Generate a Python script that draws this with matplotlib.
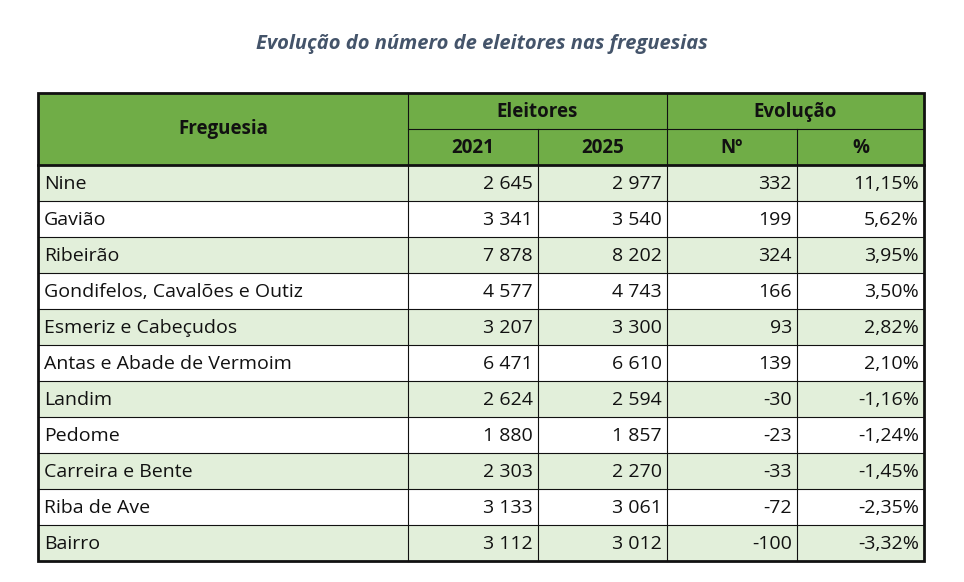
import matplotlib
matplotlib.use("Agg")
import matplotlib.pyplot as plt
from matplotlib.patches import Rectangle

freguesias = ["Nine", "Gavião", "Ribeirão", "Gondifelos, Cavalões e Outiz", "Esmeriz e Cabeçudos",
              "Antas e Abade de Vermoim", "Landim", "Pedome", "Carreira e Bente", "Riba de Ave", "Bairro"]
e2021 = ["2 645", "3 341", "7 878", "4 577", "3 207", "6 471", "2 624", "1 880", "2 303", "3 133", "3 112"]
e2025 = ["2 977", "3 540", "8 202", "4 743", "3 300", "6 610", "2 594", "1 857", "2 270", "3 061", "3 012"]
evol_n = ["332", "199", "324", "166", "93", "139", "-30", "-23", "-33", "-72", "-100"]
evol_p = ["11,15%", "5,62%", "3,95%", "3,50%", "2,82%", "2,10%", "-1,16%", "-1,24%", "-1,45%", "-2,35%", "-3,32%"]

FONT = "Open Sans"
fig = plt.figure(figsize=(9.64, 5.82), dpi=100)
ax = fig.add_axes([0, 0, 1, 1])
ax.set_xlim(0, 964); ax.set_ylim(582, 0); ax.axis("off")

xs = [38, 408, 538, 667, 797, 924]
top, mid, hb, rh = 93, 129, 165, 36
green, light = "#70AD47", "#E2EFDA"

ax.text(482, 44, "Evolução do número de eleitores nas freguesias", ha="center", va="center",
        fontsize=14.5, fontweight="bold", fontstyle="italic", color="#44546A", family=FONT)

ax.add_patch(Rectangle((xs[0], top), xs[-1]-xs[0], hb-top, fc=green, ec="none"))
n = len(freguesias)
for i in range(n):
    y = hb + i*rh
    ax.add_patch(Rectangle((xs[0], y), xs[-1]-xs[0], rh, fc=light if i % 2 == 0 else "white", ec="none"))

kw = dict(fontsize=13.5, fontweight="bold", color="#111111", family=FONT, va="center", ha="center")
ax.text((xs[0]+xs[1])/2, (top+hb)/2, "Freguesia", **kw)
ax.text((xs[1]+xs[3])/2, (top+mid)/2+1, "Eleitores", **kw)
ax.text((xs[3]+xs[5])/2, (top+mid)/2+1, "Evolução", **kw)
for j, lab in enumerate(["2021", "2025", "Nº", "%"]):
    ax.text((xs[j+1]+xs[j+2])/2, (mid+hb)/2+1, lab, **kw)

dk = dict(fontsize=14, color="#111111", family=FONT, va="center")
for i in range(n):
    yc = hb + i*rh + rh/2 + 1
    ax.text(xs[0]+6, yc, freguesias[i], ha="left", **dk)
    for j, col in enumerate([e2021, e2025, evol_n, evol_p]):
        ax.text(xs[j+2]-5, yc, col[i], ha="right", **dk)

lc = "#111111"
bottom = hb + n*rh
for i in range(1, n):
    y = hb + i*rh
    ax.plot([xs[0], xs[-1]], [y, y], color=lc, lw=0.8)
for k, x in enumerate(xs[1:-1], start=1):
    y0 = mid if k in (2, 4) else top
    ax.plot([x, x], [y0, bottom], color=lc, lw=0.8)
ax.plot([xs[1], xs[-1]], [mid, mid], color=lc, lw=0.8)
ax.plot([xs[0], xs[-1]], [hb, hb], color=lc, lw=2)
ax.add_patch(Rectangle((xs[0], top), xs[-1]-xs[0], bottom - top, fc="none", ec=lc, lw=2))

fig.savefig("out.png", dpi=100)
